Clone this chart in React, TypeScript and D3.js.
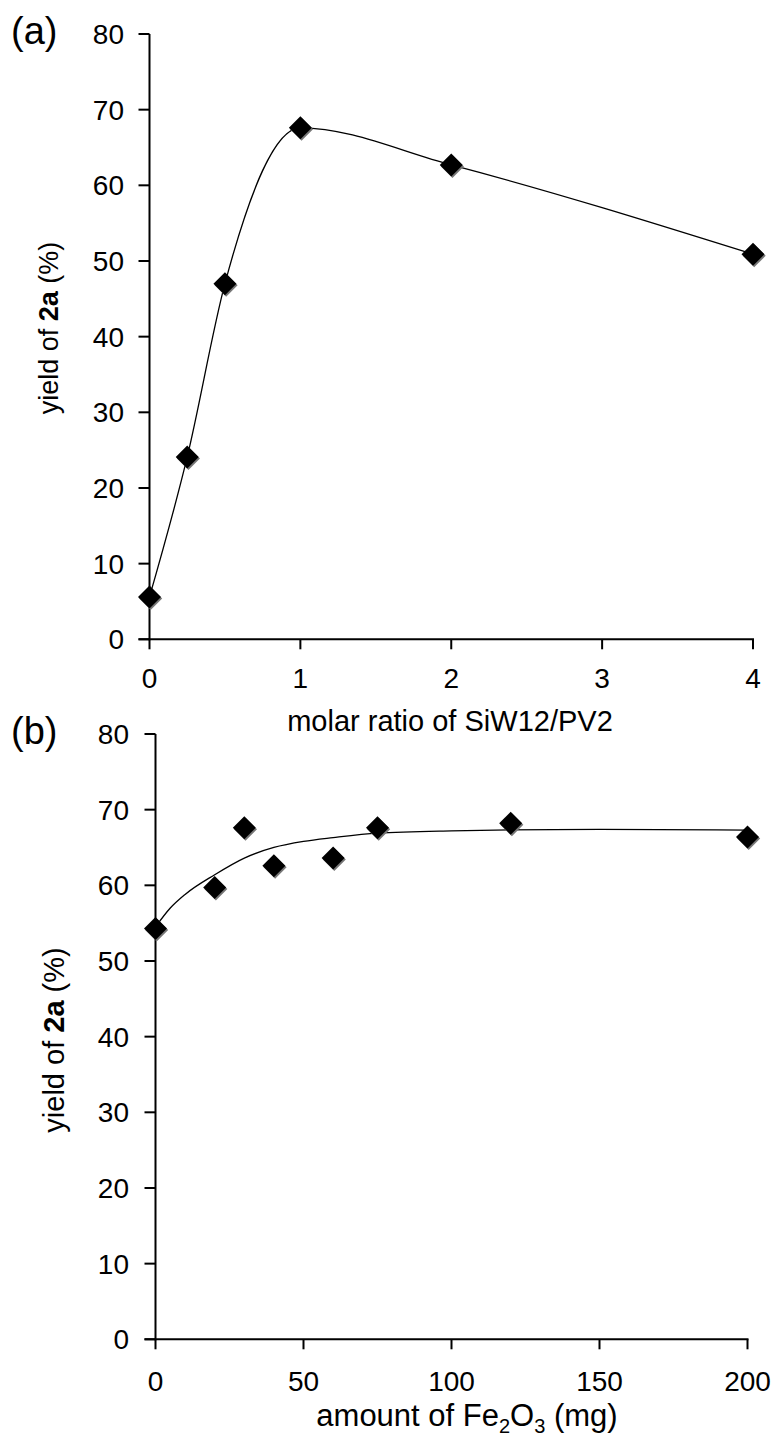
import React from 'react';
import * as d3 from 'd3';

// Panel (a): yield of 2a vs molar ratio SiW12/PV2
const ratioA: number[] = [0, 0.25, 0.5, 1, 2, 4];
const yieldA: number[] = [5.6, 24.1, 47.0, 67.6, 62.7, 50.9];
const ratioTicks: number[] = [0, 1, 2, 3, 4];

// Panel (b): yield of 2a vs amount of Fe2O3 (mg)
const amountB: number[] = [0, 20, 30, 40, 60, 75, 120, 200];
const yieldB: number[] = [54.3, 59.7, 67.6, 62.6, 63.6, 67.6, 68.2, 66.4];
// trend curve of panel (b)
const trendXB: number[] = [0, 5, 10, 20, 30, 40, 50, 60, 75, 100, 150, 200];
const trendYB: number[] = [54.5, 57.0, 58.8, 61.4, 63.6, 65.0, 65.8, 66.3, 66.9, 67.2, 67.4, 67.3];
const amountTicks: number[] = [0, 50, 100, 150, 200];

const yieldTicks: number[] = [0, 10, 20, 30, 40, 50, 60, 70, 80];

const FONT = '"Liberation Sans", Arial, Helvetica, sans-serif';

function Diamond({ cx, cy }: { cx: number; cy: number }) {
  const h = 11.5;
  const d = `M0,${-h}L${h},0L0,${h}L${-h},0Z`;
  return (
    <g>
      <path d={d} transform={`translate(${cx + 1.2},${cy + 1.5})`} fill="#777" />
      <path d={d} transform={`translate(${cx},${cy})`} fill="#000" />
    </g>
  );
}

type AxisProps = {
  x: d3.ScaleLinear<number, number>;
  y: d3.ScaleLinear<number, number>;
  xTicks: number[];
  tickFont: number;
  yLabelRight: number;
  xLabelBaseline: number;
};

function Axes({ x, y, xTicks, tickFont, yLabelRight, xLabelBaseline }: AxisProps) {
  const [x0, x1] = x.range();
  const [y0, y1] = y.range();
  return (
    <g fontFamily={FONT} fill="#000">
      <line x1={x0} x2={x0} y1={y1} y2={y0 + 1} stroke="#000" strokeWidth={2} />
      <line x1={x0 - 11} x2={x1 + 1} y1={y0} y2={y0} stroke="#000" strokeWidth={2} />
      {yieldTicks.map((t) => (
        <g key={'y' + t}>
          <line x1={x0 - 11} x2={x0} y1={y(t)} y2={y(t)} stroke="#000" strokeWidth={2} />
          <text x={yLabelRight} y={y(t)} dy="0.36em" textAnchor="end" fontSize={tickFont}>
            {t}
          </text>
        </g>
      ))}
      {xTicks.map((t) => (
        <g key={'x' + t}>
          <line x1={x(t)} x2={x(t)} y1={y0} y2={y0 + 10} stroke="#000" strokeWidth={2} />
          <text x={x(t)} y={xLabelBaseline} textAnchor="middle" fontSize={tickFont}>
            {t}
          </text>
        </g>
      ))}
    </g>
  );
}

export default function App() {
  // Panel (a) scales
  const xA = d3.scaleLinear().domain([0, 4]).range([149.5, 753]);
  const yA = d3.scaleLinear().domain([0, 80]).range([639.3, 34]);
  // Panel (b) scales
  const xB = d3.scaleLinear().domain([0, 200]).range([155.5, 747.5]);
  const yB = d3.scaleLinear().domain([0, 80]).range([1339.3, 734]);

  const ptsA = ratioA.map((r, i) => [xA(r), yA(yieldA[i])] as [number, number]);
  const lineA = d3.line().curve(d3.curveMonotoneX)(ptsA) || '';

  const ptsTrend = trendXB.map((v, i) => [xB(v), yB(trendYB[i])] as [number, number]);
  const lineB = d3.line().curve(d3.curveMonotoneX)(ptsTrend) || '';

  return (
    <svg
      width={776}
      height={1437}
      style={{ position: 'absolute', left: 0, top: 0, background: '#fff' }}
      fontFamily={FONT}
    >
      <rect width={776} height={1437} fill="#fff" />

      {/* Panel (a) */}
      <text x={11} y={44} fontSize={38}>(a)</text>
      <Axes x={xA} y={yA} xTicks={ratioTicks} tickFont={28} yLabelRight={124} xLabelBaseline={688} />
      <path d={lineA} fill="none" stroke="#000" strokeWidth={1.3} />
      {ptsA.map((p, i) => (
        <Diamond key={'a' + i} cx={p[0]} cy={p[1]} />
      ))}
      <text x={450} y={731} textAnchor="middle" fontSize={29}>
        molar ratio of SiW12/PV2
      </text>
      <text transform="translate(58,328) rotate(-90)" textAnchor="middle" fontSize={27}>
        yield of <tspan fontWeight="bold">2a</tspan> (%)
      </text>

      {/* Panel (b) */}
      <text x={11} y={744} fontSize={38}>(b)</text>
      <Axes x={xB} y={yB} xTicks={amountTicks} tickFont={28} yLabelRight={129} xLabelBaseline={1391} />
      <path d={lineB} fill="none" stroke="#000" strokeWidth={1.3} />
      {amountB.map((v, i) => (
        <Diamond key={'b' + i} cx={xB(v)} cy={yB(yieldB[i])} />
      ))}
      <text x={467} y={1426} textAnchor="middle" fontSize={31}>
        amount of Fe<tspan fontSize={20} dy={7}>2</tspan>
        <tspan dy={-7}>O</tspan>
        <tspan fontSize={20} dy={7}>3</tspan>
        <tspan dy={-7}> (mg)</tspan>
      </text>
      <text transform="translate(64,1040) rotate(-90)" textAnchor="middle" fontSize={29}>
        yield of <tspan fontWeight="bold">2a</tspan> (%)
      </text>
    </svg>
  );
}
